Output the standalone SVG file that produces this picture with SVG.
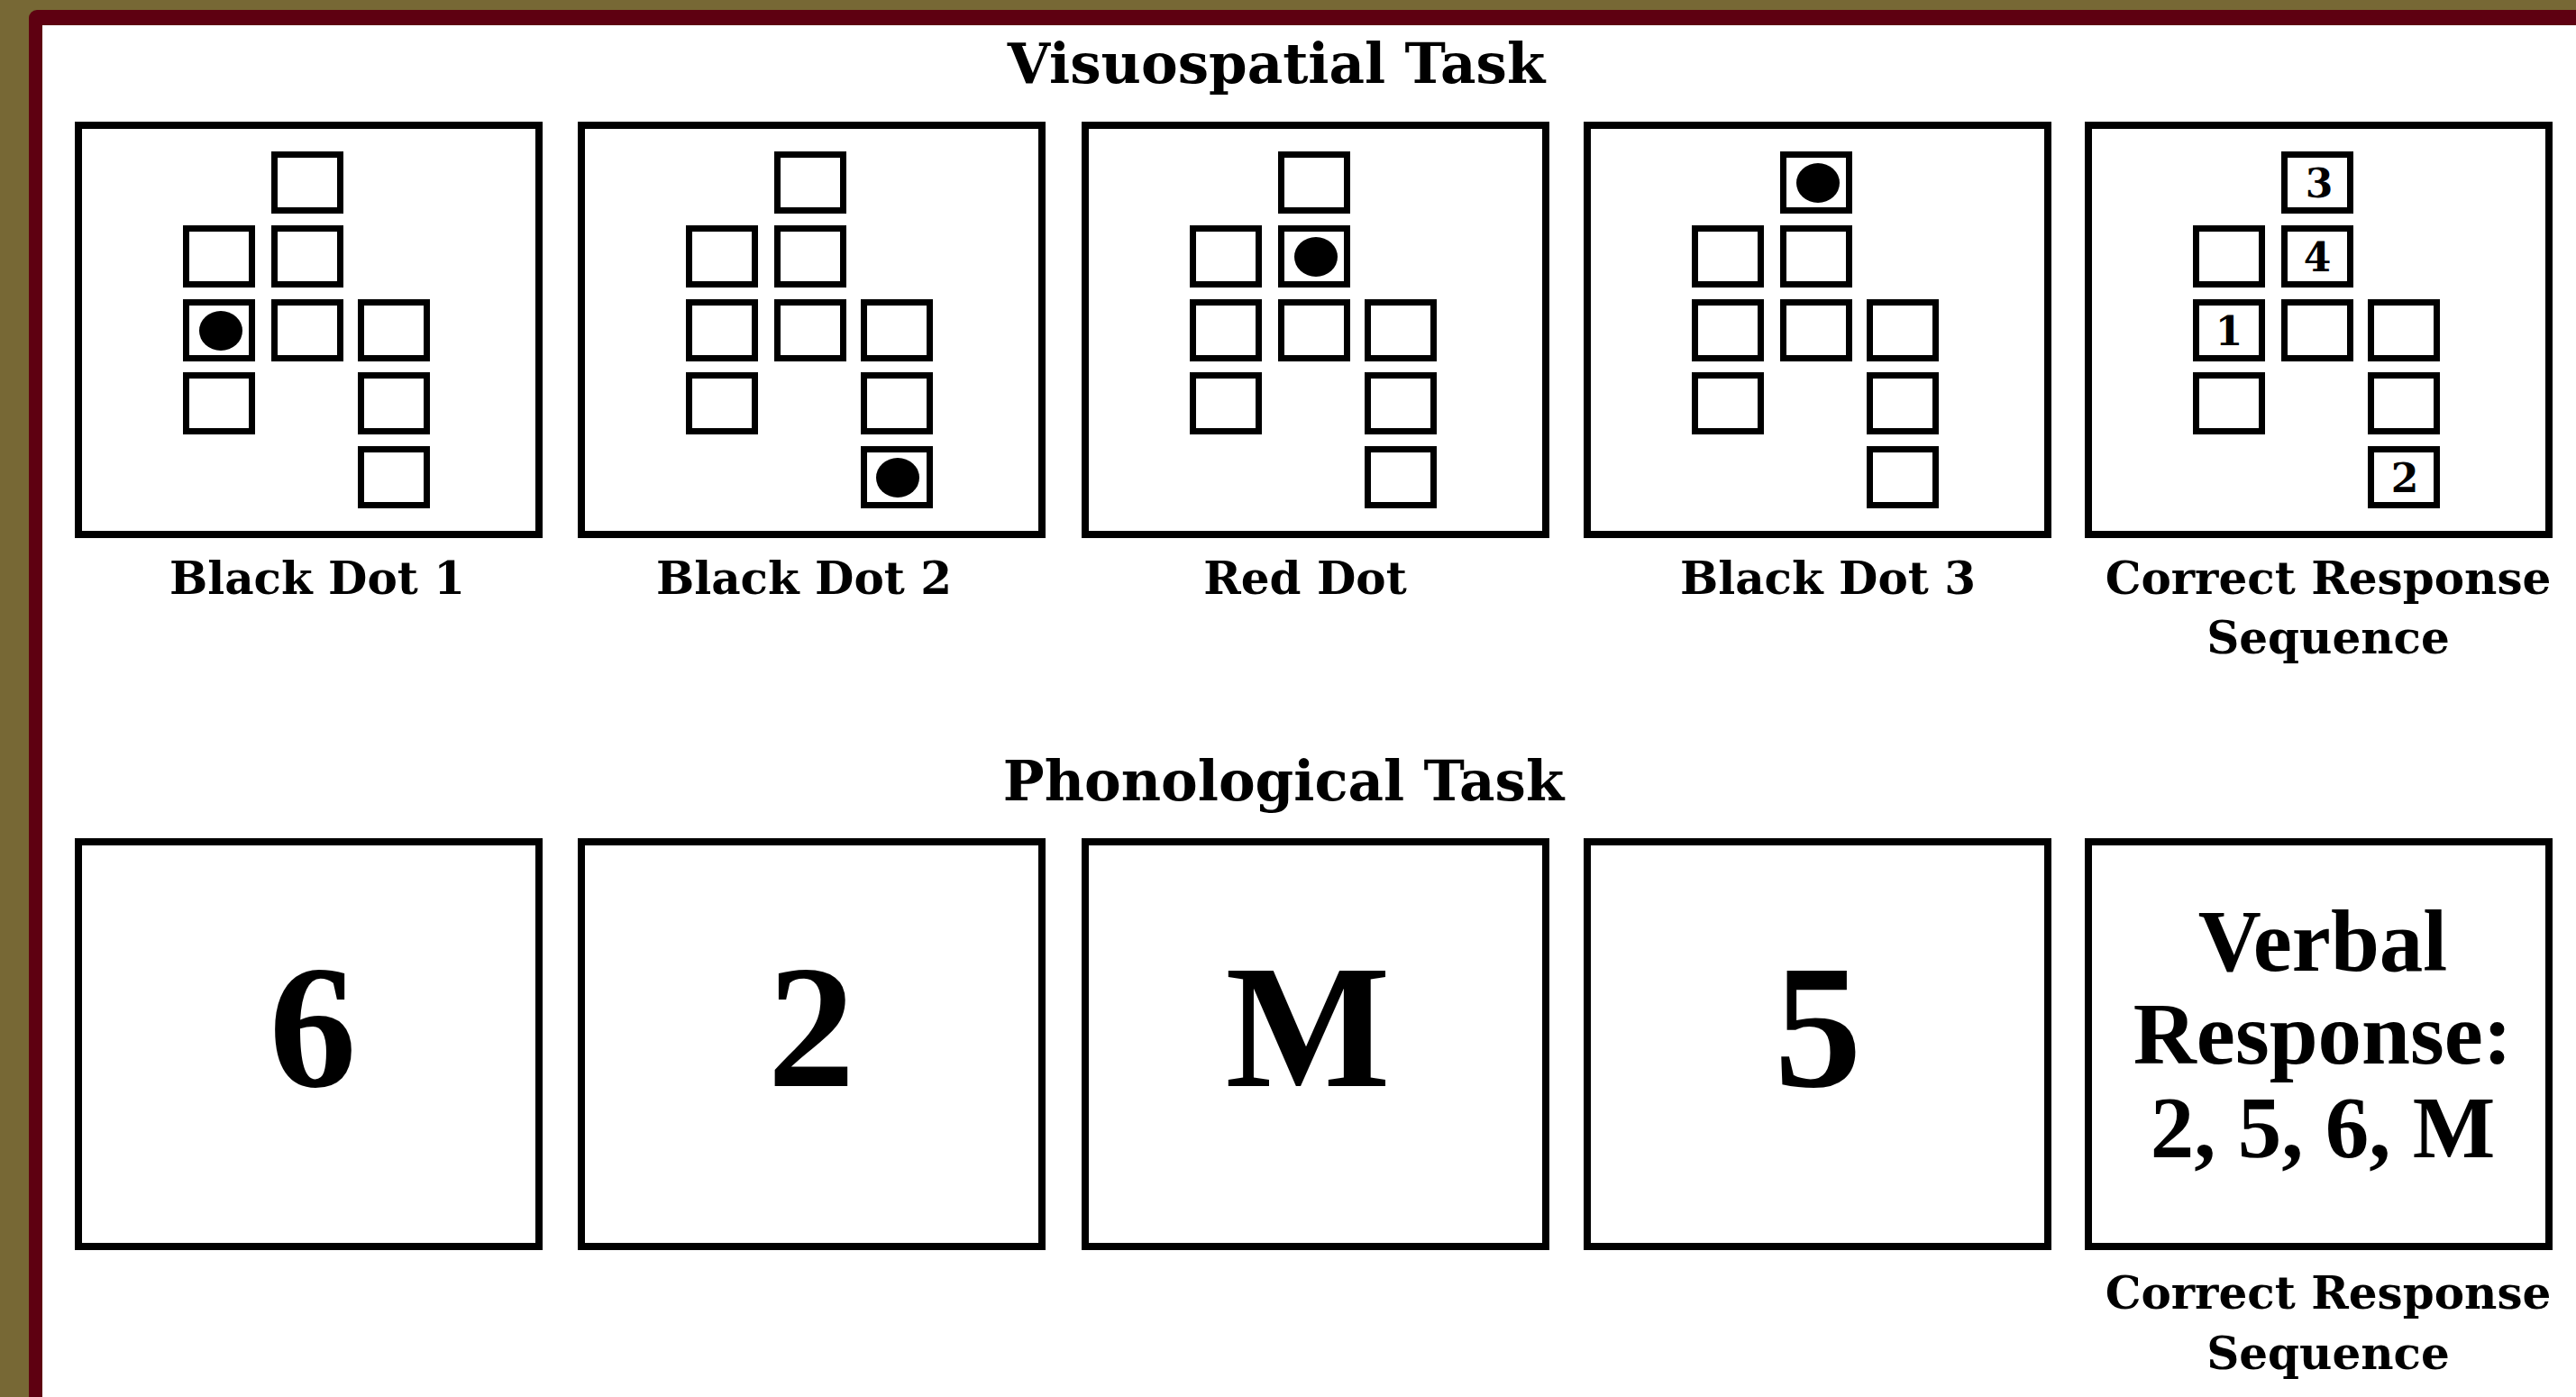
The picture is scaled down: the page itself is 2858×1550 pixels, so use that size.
<svg xmlns="http://www.w3.org/2000/svg" xmlns:xlink="http://www.w3.org/1999/xlink" width="2858" height="1550" viewBox="0 0 2858 1550">
  <style>
    .frame { fill: #ffffff; stroke: #000000; stroke-width: 8; }
    .cell { fill: #ffffff; stroke: #000000; stroke-width: 7; }
    .dot { fill: #000000; }
    .title { font-family: "DejaVu Serif", "Liberation Serif", serif; font-weight: bold; font-size: 61px; text-anchor: middle; fill: #000; }
    .label { font-family: "DejaVu Serif", "Liberation Serif", serif; font-weight: bold; font-size: 50px; text-anchor: middle; fill: #000; }
    .num { font-family: "DejaVu Serif", "Liberation Serif", serif; font-weight: bold; font-size: 44px; text-anchor: middle; fill: #000; }
    .big { font-family: "Liberation Serif", "Times New Roman", serif; font-weight: bold; font-size: 194px; text-anchor: middle; fill: #000; }
    .verbal { font-family: "Liberation Serif", "Times New Roman", serif; font-weight: bold; font-size: 97px; text-anchor: middle; fill: #000; }
  </style>
  <defs>
    <g id="grid">
      <rect class="cell" x="221.5" y="36.5" width="73" height="62"/>
      <rect class="cell" x="123.5" y="118.5" width="73" height="62"/>
      <rect class="cell" x="221.5" y="118.5" width="73" height="62"/>
      <rect class="cell" x="123.5" y="200.5" width="73" height="62"/>
      <rect class="cell" x="221.5" y="200.5" width="73" height="62"/>
      <rect class="cell" x="317.5" y="200.5" width="73" height="62"/>
      <rect class="cell" x="123.5" y="281.5" width="73" height="62"/>
      <rect class="cell" x="317.5" y="281.5" width="73" height="62"/>
      <rect class="cell" x="317.5" y="363.5" width="73" height="62"/>
    </g>
  </defs>

  <!-- background frame -->
  <rect x="0" y="0" width="2858" height="1550" fill="#776835"/>
  <rect x="32" y="11" width="2900" height="1600" rx="9" fill="#5e0011"/>
  <rect x="47" y="28" width="2900" height="1600" fill="#ffffff"/>

  <text class="title" x="1416" y="92">Visuospatial Task</text>
  <text class="title" x="1424" y="888">Phonological Task</text>

  <!-- Visuospatial task -->
  <g id="vs-black-dot-1">
    <g transform="translate(83,135)">
      <rect class="frame" x="4" y="4" width="511" height="454"/>
      <use xlink:href="#grid" href="#grid"/>
      <ellipse class="dot" cx="162" cy="232" rx="24" ry="22"/>
    </g>
    <text class="label" x="352" y="659">Black Dot 1</text>
  </g>
  <g id="vs-black-dot-2">
    <g transform="translate(641,135)">
      <rect class="frame" x="4" y="4" width="511" height="454"/>
      <use xlink:href="#grid" href="#grid"/>
      <ellipse class="dot" cx="355" cy="395" rx="24" ry="22"/>
    </g>
    <text class="label" x="892" y="659">Black Dot 2</text>
  </g>
  <g id="vs-red-dot">
    <g transform="translate(1200,135)">
      <rect class="frame" x="4" y="4" width="511" height="454"/>
      <use xlink:href="#grid" href="#grid"/>
      <ellipse class="dot" cx="260" cy="150" rx="24" ry="22"/>
    </g>
    <text class="label" x="1448" y="659">Red Dot</text>
  </g>
  <g id="vs-black-dot-3">
    <g transform="translate(1757,135)">
      <rect class="frame" x="4" y="4" width="511" height="454"/>
      <use xlink:href="#grid" href="#grid"/>
      <ellipse class="dot" cx="260" cy="68" rx="24" ry="22"/>
    </g>
    <text class="label" x="2028" y="659">Black Dot 3</text>
  </g>
  <g id="vs-correct-response">
    <g transform="translate(2313,135)">
      <rect class="frame" x="4" y="4" width="511" height="454"/>
      <use xlink:href="#grid" href="#grid"/>
      <text class="num" x="160" y="248">1</text>
      <text class="num" x="355" y="411">2</text>
      <text class="num" x="260" y="84">3</text>
      <text class="num" x="258" y="166">4</text>
    </g>
    <text class="label" x="2583" y="659">Correct Response</text>
    <text class="label" x="2583" y="725">Sequence</text>
  </g>

  <!-- Phonological task -->
  <g id="ph-6">
    <rect class="frame" x="87" y="934" width="511" height="449"/>
    <text class="big" x="347" y="1205">6</text>
  </g>
  <g id="ph-2">
    <rect class="frame" x="645" y="934" width="511" height="449"/>
    <text class="big" x="900" y="1205">2</text>
  </g>
  <g id="ph-m">
    <rect class="frame" x="1204" y="934" width="511" height="449"/>
    <text class="big" x="1451" y="1205">M</text>
  </g>
  <g id="ph-5">
    <rect class="frame" x="1761" y="934" width="511" height="449"/>
    <text class="big" x="2017" y="1205">5</text>
  </g>
  <g id="ph-correct-response">
    <rect class="frame" x="2317" y="934" width="511" height="449"/>
    <text class="verbal" x="2577" y="1077">Verbal</text>
    <text class="verbal" x="2577" y="1180">Response:</text>
    <text class="verbal" x="2577" y="1284">2, 5, 6, M</text>
    <text class="label" x="2583" y="1452">Correct Response</text>
    <text class="label" x="2583" y="1519">Sequence</text>
  </g>
</svg>
